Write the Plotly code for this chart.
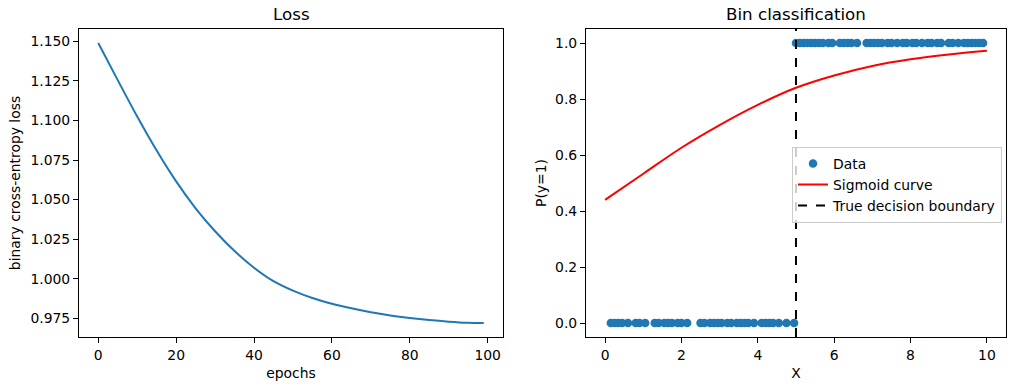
import plotly.graph_objects as go

# ---- data ----
epochs = [0, 5, 10, 15, 20, 25, 30, 35, 40, 45, 50, 55, 60, 65, 70, 75, 80, 85, 90, 95, 99]
loss = [1.149, 1.1255, 1.1025, 1.081, 1.0615, 1.0445, 1.030, 1.0175, 1.007, 0.9985, 0.9925,
        0.9878, 0.9842, 0.9813, 0.9788, 0.9768, 0.9752, 0.9739, 0.9729, 0.9722, 0.9720]

x_class0 = [0.15, 0.25, 0.35, 0.45, 0.6, 0.8, 0.9, 1.05, 1.3, 1.4, 1.55, 1.65, 1.75, 1.9,
            2.0, 2.15, 2.5, 2.6, 2.75, 2.85, 2.95, 3.05, 3.2, 3.3, 3.45, 3.55, 3.65, 3.75,
            3.9, 4.1, 4.2, 4.3, 4.4, 4.55, 4.75, 4.95]
x_class1 = [5.0, 5.1, 5.2, 5.3, 5.4, 5.5, 5.6, 5.7, 5.85, 5.95, 6.15, 6.25, 6.35, 6.45,
            6.6, 6.85, 6.95, 7.05, 7.15, 7.25, 7.4, 7.5, 7.65, 7.8, 7.9, 8.05, 8.15, 8.3,
            8.45, 8.55, 8.7, 8.8, 9.0, 9.1, 9.25, 9.4, 9.5, 9.6, 9.7, 9.8, 9.9]
y_class0 = [0] * len(x_class0)
y_class1 = [1] * len(x_class1)

sig_x = [0, 1, 2, 3, 4, 5, 6, 7, 8, 9, 10]
sig_y = [0.44, 0.533, 0.626, 0.707, 0.779, 0.840, 0.884, 0.918, 0.942, 0.959, 0.972]

boundary = 5

BLUE = "#1f77b4"
FONT = "DejaVu Sans"
FS = 13.9
TFS = 16.7

fig = go.Figure()

fig.add_trace(go.Scatter(x=epochs, y=loss, mode="lines", line=dict(color=BLUE, width=2, shape="spline"),
                         showlegend=False, xaxis="x", yaxis="y"))

fig.add_trace(go.Scatter(x=x_class0 + x_class1, y=y_class0 + y_class1, mode="markers",
                         marker=dict(color=BLUE, size=8.5), name="Data", legendgroup="a",
                         xaxis="x2", yaxis="y2"))
fig.add_trace(go.Scatter(x=sig_x, y=sig_y, mode="lines", line=dict(color="red", width=2, shape="spline"),
                         name="Sigmoid curve", legendgroup="b", xaxis="x2", yaxis="y2"))
fig.add_trace(go.Scatter(x=[None], y=[None], mode="lines", line=dict(color="black", width=2, dash="dash"),
                         name="True decision boundary", legendgroup="c", xaxis="x2", yaxis="y2"))

fig.add_shape(type="line", xref="x2", yref="y2 domain", x0=boundary, x1=boundary, y0=0, y1=1,
              line=dict(color="black", width=2, dash="dash"))

axis_common = dict(showline=True, linecolor="black", linewidth=1, mirror=True, ticks="outside",
                   ticklen=5, tickcolor="black", showgrid=False, zeroline=False,
                   tickfont=dict(family=FONT, size=FS, color="black"))

fig.update_layout(
    width=1019, height=391,
    margin=dict(l=79, r=13, t=29, b=54),
    plot_bgcolor="white", paper_bgcolor="white",
    font=dict(family=FONT, size=FS, color="black"),
    xaxis=dict(domain=[0, 0.4574], range=[-4.95, 103.95], tickvals=[0, 20, 40, 60, 80, 100],
               title=dict(text="epochs", font=dict(size=FS), standoff=6), **axis_common),
    yaxis=dict(range=[0.9632, 1.1578], tickvals=[0.975, 1.0, 1.025, 1.05, 1.075, 1.1, 1.125, 1.15],
               tickformat=".3f", title=dict(text="binary cross-entropy loss", font=dict(size=FS), standoff=6),
               **axis_common),
    xaxis2=dict(domain=[0.5469, 1], range=[-0.5, 10.5], tickvals=[0, 2, 4, 6, 8, 10], anchor="y2",
                title=dict(text="X", font=dict(size=FS), standoff=6), **axis_common),
    yaxis2=dict(range=[-0.05, 1.05], tickvals=[0, 0.2, 0.4, 0.6, 0.8, 1.0], tickformat=".1f", anchor="x2",
                title=dict(text="P(y=1)", font=dict(size=FS), standoff=5), **axis_common),
    legend=dict(x=0.9957, y=0.494, xanchor="right", yanchor="middle", bgcolor="rgba(255,255,255,0.8)",
                bordercolor="#cccccc", borderwidth=1, font=dict(family=FONT, size=FS),
                itemwidth=30, tracegroupgap=0),
    annotations=[
        dict(text="Loss", x=0.4574 / 2, y=1, xref="paper", yref="paper", xanchor="center", yanchor="bottom",
             yshift=3, showarrow=False, font=dict(family=FONT, size=TFS)),
        dict(text="Bin classification", x=(0.5469 + 1) / 2, y=1, xref="paper", yref="paper",
             xanchor="center", yanchor="bottom", yshift=3, showarrow=False, font=dict(family=FONT, size=TFS)),
    ],
)

fig.write_html("out.html", config={"displayModeBar": False},
               post_script="document.body.style.margin='0px';")
